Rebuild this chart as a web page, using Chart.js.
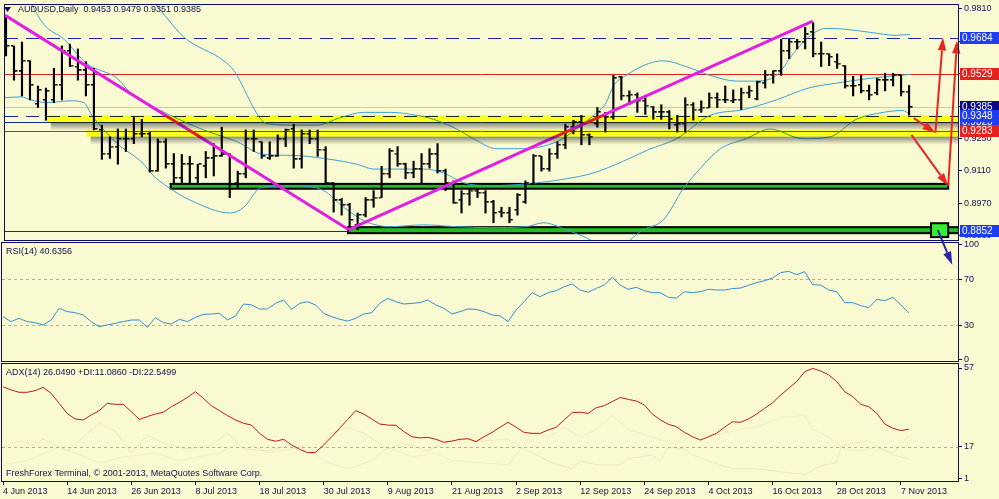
<!DOCTYPE html>
<html>
<head>
<meta charset="utf-8">
<script src="https://cdn.jsdelivr.net/npm/chart.js@4.4.0/dist/chart.umd.min.js"></script>
<style>
  html, body { margin: 0; padding: 0; background: #FAFAD2; overflow: hidden; }
  #wrap { position: relative; width: 999px; height: 499px; }
  #wrap canvas { position: absolute; left: 0; top: 0; }
</style>
</head>
<body>
<div id="wrap">
  <canvas id="adxChart" width="999" height="499"></canvas>
  <canvas id="rsiChart" width="999" height="499"></canvas>
  <canvas id="priceChart" width="999" height="499"></canvas>
</div>
<script>
// daily bars, 4 Jun 2013 .. 8 Nov 2013 (index = bar number)
const openP = [0.9764,0.9650,0.9540,0.9586,0.9400,0.9417,0.9417,0.9481,0.9629,0.9561,
  0.9544,0.9481,0.9287,0.9185,0.9215,0.9249,0.9249,0.9270,0.9270,0.9109,
  0.9236,0.9139,0.9080,0.9139,0.9080,0.9130,0.9164,0.9173,0.9181,0.9059,
  0.9097,0.9249,0.9236,0.9164,0.9173,0.9249,0.9291,0.9160,0.9270,0.9249,
  0.9202,0.9059,0.8983,0.8962,0.8877,0.8919,0.8983,0.8995,0.9097,0.9185,
  0.9139,0.9101,0.9118,0.9139,0.9181,0.9109,0.9059,0.8983,0.9012,0.9025,
  0.9016,0.8974,0.8932,0.8928,0.8941,0.8974,0.9054,0.9173,0.9118,0.9181,
  0.9223,0.9299,0.9320,0.9266,0.9312,0.9350,0.9341,0.9515,0.9434,0.9439,
  0.9413,0.9388,0.9363,0.9363,0.9308,0.9312,0.9396,0.9375,0.9384,0.9426,
  0.9417,0.9413,0.9417,0.9447,0.9422,0.9489,0.9523,0.9540,0.9629,0.9667,
  0.9667,0.9709,0.9616,0.9616,0.9582,0.9565,0.9477,0.9481,0.9456,0.9447,
  0.9502,0.9502,0.9523,0.9453];
const highP = [0.9772,0.9650,0.9667,0.9586,0.9477,0.9468,0.9553,0.9650,0.9658,0.9637,
  0.9582,0.9553,0.9308,0.9257,0.9291,0.9291,0.9341,0.9333,0.9278,0.9249,
  0.9249,0.9185,0.9181,0.9173,0.9139,0.9194,0.9228,0.9299,0.9185,0.9109,
  0.9287,0.9287,0.9236,0.9236,0.9266,0.9291,0.9312,0.9287,0.9287,0.9287,
  0.9215,0.9059,0.8991,0.8970,0.8928,0.8995,0.9025,0.9130,0.9206,0.9215,
  0.9143,0.9152,0.9185,0.9206,0.9228,0.9118,0.9067,0.9025,0.9033,0.9033,
  0.9025,0.8983,0.8953,0.8953,0.9012,0.9067,0.9181,0.9173,0.9206,0.9236,
  0.9312,0.9329,0.9350,0.9270,0.9384,0.9363,0.9523,0.9519,0.9456,0.9447,
  0.9426,0.9388,0.9396,0.9371,0.9350,0.9426,0.9405,0.9413,0.9447,0.9447,
  0.9477,0.9460,0.9468,0.9477,0.9498,0.9544,0.9544,0.9679,0.9679,0.9679,
  0.9730,0.9751,0.9667,0.9616,0.9616,0.9565,0.9519,0.9523,0.9481,0.9510,
  0.9532,0.9532,0.9523,0.9479];
const lowP = [0.9607,0.9502,0.9434,0.9417,0.9384,0.9329,0.9405,0.9417,0.9561,0.9502,
  0.9434,0.9287,0.9160,0.9164,0.9139,0.9194,0.9228,0.9257,0.9105,0.9109,
  0.9122,0.9059,0.9059,0.9059,0.9059,0.9080,0.9088,0.9173,0.8995,0.9033,
  0.9080,0.9194,0.9164,0.9160,0.9173,0.9215,0.9122,0.9122,0.9228,0.9173,
  0.9059,0.8932,0.8919,0.8856,0.8856,0.8911,0.8953,0.8995,0.9080,0.9130,
  0.9076,0.9080,0.9059,0.9122,0.9101,0.9025,0.8970,0.8928,0.8962,0.8995,
  0.8928,0.8886,0.8911,0.8886,0.8919,0.8970,0.9054,0.9109,0.9109,0.9164,
  0.9206,0.9270,0.9223,0.9223,0.9299,0.9278,0.9333,0.9417,0.9396,0.9363,
  0.9354,0.9333,0.9333,0.9291,0.9278,0.9278,0.9329,0.9363,0.9384,0.9384,
  0.9405,0.9405,0.9375,0.9426,0.9417,0.9468,0.9489,0.9523,0.9595,0.9637,
  0.9637,0.9603,0.9561,0.9565,0.9553,0.9468,0.9434,0.9447,0.9417,0.9439,
  0.9456,0.9477,0.9434,0.9351];
const closeP = [0.9650,0.9540,0.9586,0.9481,0.9460,0.9456,0.9481,0.9629,0.9565,0.9544,
  0.9481,0.9291,0.9185,0.9215,0.9249,0.9249,0.9270,0.9270,0.9109,0.9236,
  0.9139,0.9080,0.9139,0.9139,0.9139,0.9164,0.9173,0.9181,0.9033,0.9097,
  0.9249,0.9249,0.9173,0.9173,0.9249,0.9287,0.9160,0.9270,0.9249,0.9202,
  0.9059,0.8983,0.8962,0.8898,0.8919,0.8983,0.8995,0.9097,0.9194,0.9139,
  0.9101,0.9118,0.9139,0.9181,0.9109,0.9059,0.8970,0.9012,0.9025,0.9016,
  0.8974,0.8928,0.8928,0.8898,0.9004,0.9059,0.9173,0.9118,0.9185,0.9223,
  0.9299,0.9320,0.9266,0.9257,0.9363,0.9341,0.9510,0.9434,0.9439,0.9413,
  0.9392,0.9363,0.9363,0.9333,0.9312,0.9396,0.9375,0.9384,0.9426,0.9417,
  0.9417,0.9417,0.9447,0.9456,0.9493,0.9523,0.9540,0.9629,0.9667,0.9667,
  0.9700,0.9616,0.9616,0.9603,0.9574,0.9477,0.9477,0.9456,0.9439,0.9502,
  0.9502,0.9523,0.9451,0.9385];

// Bollinger bands, [bar, price]
const upperBand = [[18.5,0.9840],[20.1,0.9772],[22.25,0.9688],[27.25,0.9586],[28.5,0.9544],[31.9,0.9333],
  [33.1,0.9312],[36,0.9308],[38.9,0.9308],[41.9,0.9341],[44.75,0.9363],[48.1,0.9363],[51.4,0.9350],
  [53.5,0.9333],[56.4,0.9291],[58.5,0.9249],[61.4,0.9206],[64.75,0.9206],[68.9,0.9236],[71.4,0.9291],
  [73.5,0.9350],[75.1,0.9405],[76,0.9477],[77.6,0.9523],[80.4,0.9574],[82.25,0.9586],[85.1,0.9561],
  [88.1,0.9523],[91.4,0.9498],[93.5,0.9498],[96.4,0.9523],[98.5,0.9616],[100.4,0.9688],[102.6,0.9726],
  [105.1,0.9722],[108.1,0.9709],[111.4,0.9696],[113.1,0.9700]];
const middleBand = [[3.25,0.9827],[4.75,0.9742],[7.25,0.9679],[10.1,0.9574],[13.9,0.9510],[15.6,0.9447],
  [20.6,0.9350],[24.75,0.9287],[28.9,0.9236],[32.25,0.9181],[36,0.9177],[39.75,0.9164],[43.9,0.9139],
  [46,0.9118],[52.25,0.9118],[54.75,0.9101],[57.25,0.9059],[60.4,0.9046],[65.1,0.9054],[70.1,0.9076],
  [73.5,0.9101],[77.25,0.9152],[80.4,0.9202],[83.9,0.9249],[88.1,0.9350],[92.25,0.9375],[96.4,0.9417],
  [100.4,0.9468],[103.9,0.9489],[108.1,0.9510],[113.1,0.9527]];
const lowerBand = [[-0.25,0.9426],[1.9,0.9430],[3.1,0.9417],[5.1,0.9405],[8.1,0.9413],[9.75,0.9405],
  [10.75,0.9350],[12.25,0.9287],[14.1,0.9223],[17.25,0.9139],[18.1,0.9101],[20.4,0.9037],[23.1,0.8983],
  [28.1,0.8928],[29.75,0.8953],[31.9,0.9037],[36,0.9046],[39.75,0.9025],[42.25,0.8953],[45.1,0.8890],
  [48.1,0.8869],[52.25,0.8877],[56.4,0.8869],[60.4,0.8865],[65.1,0.8869],[67.25,0.8886],[70.1,0.8856],
  [72.25,0.8827],[76,0.8772],[79.75,0.8856],[82.25,0.8898],[84.75,0.9033],[86.9,0.9122],[89.4,0.9206],
  [92.6,0.9249],[95.6,0.9291],[99.75,0.9249],[103.1,0.9257],[106.4,0.9333],[109.75,0.9363],
  [112.25,0.9371],[113.1,0.9354]];

const rsi = [37.5,33.2,36.1,33.2,32.3,30.3,34.6,44.8,41.9,41.0,
  39.0,33.2,28.8,30.3,31.7,33.2,34.6,34.6,28.2,36.6,
  32.3,31.1,35.2,33.2,36.9,39.5,39.8,40.4,34.6,38.1,
  48.5,47.7,44.2,44.2,49.1,52.0,43.9,49.1,50.5,47.7,
  40.4,37.5,35.2,33.7,36.1,39.8,41.0,49.1,53.5,50.5,
  48.5,49.1,49.7,52.0,47.7,44.8,39.8,41.9,44.2,43.9,
  41.9,39.0,38.1,33.2,43.3,50.5,58.4,54.9,58.4,60.1,
  63.6,65.9,60.7,58.7,62.1,65.0,71.7,65.0,61.3,63.0,
  60.1,58.4,58.4,54.3,53.7,59.2,58.4,59.2,61.3,60.7,
  60.7,61.9,62.4,64.8,67.1,68.8,71.1,75.8,76.9,74.0,
  76.6,65.3,65.0,60.7,59.2,49.7,49.7,47.1,45.3,52.6,
  51.4,54.3,47.7,40.6356];
const adx = [47.5,45.9,44.7,44.7,45.5,47.2,44.2,39.1,34.0,31.2,
  30.7,33.2,35.4,39.1,38.6,38.6,34.9,31.0,32.4,33.7,
  34.6,37.4,39.6,42.1,45.0,41.6,37.9,35.4,32.9,30.7,
  29.0,28.1,23.9,20.9,19.9,20.9,18.0,15.8,14.1,14.3,
  18.0,22.2,26.5,31.0,35.4,33.7,31.2,28.6,28.1,28.0,
  24.8,22.2,21.6,21.9,20.9,19.4,20.0,20.9,21.2,19.7,
  22.2,24.4,27.0,29.5,27.0,24.4,23.9,23.9,25.6,27.0,
  30.7,34.4,34.6,34.0,36.9,37.9,40.0,42.1,41.1,40.3,
  38.3,33.7,30.7,28.5,27.3,24.4,22.2,20.5,22.2,23.9,
  27.0,29.8,29.5,31.2,33.7,36.6,39.4,43.3,46.7,50.1,
  55.1,56.8,55.5,53.5,50.1,45.0,42.5,38.6,37.4,34.0,
  28.6,26.5,25.3,26.049];
const diPlus = [[0,8],[3,10],[7,17],[9,14],[12,9],[15,12],[19,14],[22,10],[27,14],[30,20],[33,14],[36,16],
  [38,18],[40,10],[43,6],[46,10],[48,17],[51,12],[54,14],[56,10],[60,9],[63,8],[65,18],[66,24],[68,22],
  [70,27],[72,22],[74,26],[76,33],[78,26],[81,22],[84,18],[85,24],[88,23],[90,24],[92,26],[94,27],[97,32],
  [100,33],[101,26],[103,22],[105,16],[107,15],[109,17],[111,13],[113,11.086]];
const diMinus = [[0,17],[2,20],[4,18],[5,21],[8,15],[12,29],[14,25],[16,14],[18,23],[20,19],[23,16],[26,18],
  [28,24],[30,16],[33,15],[36,18],[39,14],[41,24],[43,27],[45,24],[48,16],[50,19],[53,15],[55,19],[57,21],
  [60,20],[63,21],[65,16],[67,12],[68.5,9],[71,6],[72,10],[74,8],[77,8],[78,11],[81,13],[82,10],[83,17],
  [85,16],[86,13],[88,10],[91,6],[94,6],[97,4.5],[100,3],[102,7.5],[104,9],[104.5,17],[106,19],[108,20],
  [109,17],[111,14],[113,22.5499]];

const xLabels = ["4 Jun 2013", "14 Jun 2013", "26 Jun 2013", "8 Jul 2013", "18 Jul 2013", "30 Jul 2013",
  "9 Aug 2013", "21 Aug 2013", "2 Sep 2013", "12 Sep 2013", "24 Sep 2013", "4 Oct 2013", "16 Oct 2013",
  "28 Oct 2013", "7 Nov 2013"];
const priceTicks = [0.9810, 0.9670, 0.9530, 0.9390, 0.9250, 0.9110, 0.8970, 0.8830];
const rsiTicks = [0, 30, 70, 100];
const rsiLevels = [30, 70];
const adxTicks = [1, 17, 57];
const adxLevels = [17];

// drawn objects, in bar / price units
const bidPrice = 0.9385;
const dashedLevels = [0.9684, 0.9348];
const solidLevels = [0.9323, 0.8852];
const redLevels = [0.9529, 0.9283];
const zones = [[5.1, 0.9350, 0.9318], [10.1, 0.9286, 0.9258]];            // from bar, top, bottom
const greenBoxes = [[20.6, 117.9, 0.9054, 0.9033], [42.8, 119.3, 0.8867, 0.8841], [115.75, 117.9, 0.8884, 0.8824]];
const trendLines = [[[0, 0.9780], [42.8, 0.8858]], [[43, 0.8858], [100.8, 0.9755]]];
const redArrows = [[[113.6, 0.9338], [116.3, 0.9275], [117.25, 0.9687]],
                   [[113.3, 0.9266], [117.9, 0.9045], [119.0, 0.9674]]];
const blueArrow = [[116.6, 0.8854], [118.4, 0.8705]];

const NAVY = "#0C0C64";
const X_MIN = -0.125, X_MAX = 119.125;
const last = closeP.length - 1;

Chart.defaults.font.family = "'Liberation Sans', Arial, sans-serif";
Chart.defaults.font.size = 9;
Chart.defaults.color = "#10104A";
Chart.defaults.animation = false;
Chart.defaults.events = [];
Chart.defaults.plugins.legend.display = false;
Chart.defaults.plugins.tooltip.enabled = false;

const xAxis = (show) => ({
  type: "linear", min: X_MIN, max: X_MAX, offset: false, display: show,
  grid: { drawOnChartArea: false, tickLength: 4, tickColor: NAVY },
  border: { display: false },
  ticks: { autoSkip: false, maxRotation: 0, align: "start", padding: 1, callback: (v) => xLabels[Math.round(v / 8)] },
  afterBuildTicks: (s) => { s.ticks = xLabels.map((_, k) => ({ value: k * 8 })); },
  afterFit: (s) => { s.height = show ? 18 : 0; s.paddingLeft = 0; s.paddingRight = 0; }
});
const yAxis = (min, max, ticks, fmt) => ({
  position: "right", min: min, max: max,
  grid: { drawOnChartArea: false, tickLength: 4, tickColor: NAVY },
  border: { display: false },
  ticks: { padding: 2, callback: fmt },
  afterBuildTicks: (s) => { s.ticks = ticks.map((v) => ({ value: v })); },
  afterFit: (s) => { s.width = 41; s.paddingTop = 0; s.paddingBottom = 0; }
});
const pts = (list) => list.map((p) => ({ x: p[0], y: p[1] }));

function frame(chart) {
  const { ctx, chartArea: a } = chart;
  ctx.save();
  ctx.strokeStyle = NAVY; ctx.lineWidth = 1;
  ctx.strokeRect(a.left - 0.5, a.top - 0.5, a.right - a.left + 1, a.bottom - a.top + 1);
  ctx.restore();
}
function caption(ctx, text, x, y) {
  ctx.save();
  ctx.font = "9px 'Liberation Sans', Arial";
  ctx.fillStyle = "#10104A"; ctx.textBaseline = "middle"; ctx.textAlign = "left";
  ctx.fillText(text, x, y);
  ctx.restore();
}
function arrow(ctx, p1, p2, color, width, head) {
  const [x1, y1] = p1, [x2, y2] = p2;
  const ang = Math.atan2(y2 - y1, x2 - x1);
  const bx = x2 - head * Math.cos(ang), by = y2 - head * Math.sin(ang);
  const w = head * 0.32;
  ctx.strokeStyle = color; ctx.fillStyle = color; ctx.lineWidth = width;
  ctx.beginPath(); ctx.moveTo(x1, y1); ctx.lineTo(bx, by); ctx.stroke();
  ctx.beginPath(); ctx.moveTo(x2, y2);
  ctx.lineTo(bx + w * Math.sin(ang), by - w * Math.cos(ang));
  ctx.lineTo(bx - w * Math.sin(ang), by + w * Math.cos(ang));
  ctx.closePath(); ctx.fill();
}
function tickImage(side) {
  const c = document.createElement("canvas");
  c.width = 8; c.height = 2;
  const g = c.getContext("2d");
  g.fillStyle = "#000";
  g.fillRect(side < 0 ? 1 : 5, 0, 2.5, 1.5);
  return c;
}

const priceDecor = {
  id: "priceDecor",
  beforeDatasetsDraw(chart) {
    const { ctx, chartArea: a, scales: { x, y } } = chart;
    ctx.save();
    ctx.beginPath(); ctx.rect(a.left, a.top, a.right - a.left, a.bottom - a.top); ctx.clip();
    const level = (p, color, dash) => {
      const py = Math.round(y.getPixelForValue(p)) + 0.5;
      ctx.strokeStyle = color; ctx.lineWidth = 1; ctx.setLineDash(dash);
      ctx.beginPath(); ctx.moveTo(a.left, py); ctx.lineTo(a.right, py); ctx.stroke();
    };
    level(bidPrice, "#C9C9BE", []);
    solidLevels.forEach((p) => level(p, "#1A28A0", []));
    dashedLevels.forEach((p) => level(p, "#1A28A0", [13, 8]));
    redLevels.forEach((p) => level(p, "#E0201C", []));
    ctx.setLineDash([]);
    greenBoxes.forEach((b, k) => {
      const x1 = x.getPixelForValue(b[0]), x2 = x.getPixelForValue(b[1]);
      const y1 = y.getPixelForValue(b[2]), y2 = y.getPixelForValue(b[3]);
      ctx.fillStyle = k === 2 ? "#33EE33" : "#22BB22";
      ctx.fillRect(x1, y1, x2 - x1, y2 - y1);
      ctx.strokeStyle = "#000"; ctx.lineWidth = 2;
      ctx.strokeRect(x1, y1, x2 - x1, y2 - y1);
    });
    ctx.restore();
  },
  afterDatasetsDraw(chart) {
    const { ctx, chartArea: a, scales: { x, y } } = chart;
    const px = (p) => [x.getPixelForValue(p[0]), y.getPixelForValue(p[1])];
    ctx.save();
    ctx.beginPath(); ctx.rect(a.left, a.top, a.right - a.left, a.bottom - a.top); ctx.clip();
    ctx.strokeStyle = "#E020E0"; ctx.lineWidth = 3; ctx.lineCap = "round";
    trendLines.forEach((l) => {
      const [x1, y1] = px(l[0]), [x2, y2] = px(l[1]);
      ctx.beginPath(); ctx.moveTo(x1, y1); ctx.lineTo(x2, y2); ctx.stroke();
    });
    // highlighted zones: yellow multiplied over everything under it
    ctx.globalCompositeOperation = "multiply";
    zones.forEach((z) => {
      const x1 = x.getPixelForValue(z[0]);
      const y1 = y.getPixelForValue(z[1]), y2 = y.getPixelForValue(z[2]);
      const g = ctx.createLinearGradient(0, y2, 0, y2 + 8);
      g.addColorStop(0, "rgba(110,110,100,0.8)");
      g.addColorStop(1, "rgba(110,110,100,0)");
      ctx.fillStyle = g; ctx.fillRect(x1 + 4, y2, a.right - x1 - 4, 8);
      ctx.fillStyle = "#FFFF1E"; ctx.fillRect(x1, y1, a.right - x1, y2 - y1);
    });
    ctx.restore();
    ctx.save();
    redArrows.forEach((path) => {
      for (let k = 1; k < path.length; k++) arrow(ctx, px(path[k - 1]), px(path[k]), "#E6281E", 2, 13);
    });
    arrow(ctx, px(blueArrow[0]), px(blueArrow[1]), "#2626AA", 2, 13);
    ctx.restore();
  },
  afterDraw(chart) {
    const { ctx, chartArea: a, scales: { y } } = chart;
    frame(chart);
    const tag = (p, bg) => {
      const py = Math.round(y.getPixelForValue(p));
      ctx.fillStyle = bg; ctx.fillRect(a.right + 2, py - 6, chart.width - a.right - 2, 12);
      ctx.fillStyle = "#fff"; ctx.font = "10px 'Liberation Sans', Arial";
      ctx.textBaseline = "middle"; ctx.textAlign = "left";
      ctx.fillText(p.toFixed(4), a.right + 4, py + 0.5);
    };
    ctx.save();
    tag(bidPrice, "#0A0A80");
    solidLevels.forEach((p) => tag(p, "#1E3CF0"));
    dashedLevels.forEach((p) => tag(p, "#1E3CF0"));
    redLevels.forEach((p) => tag(p, "#E8201E"));
    // title
    ctx.fillStyle = NAVY;
    ctx.beginPath(); ctx.moveTo(4, 7); ctx.lineTo(11, 7); ctx.lineTo(7.5, 12); ctx.closePath(); ctx.fill();
    ctx.restore();
    caption(ctx, "AUDUSD,Daily  " + [openP, highP, lowP, closeP].map((s) => s[last].toFixed(4)).join(" "), 18, 10);
  }
};

const indicatorDecor = (levels, label) => ({
  id: "indicatorDecor",
  beforeDatasetsDraw(chart) {
    const { ctx, chartArea: a, scales: { y } } = chart;
    ctx.save();
    ctx.strokeStyle = "#B0AE94"; ctx.lineWidth = 1; ctx.setLineDash([3, 3]);
    levels.forEach((v) => {
      const py = Math.round(y.getPixelForValue(v)) + 0.5;
      ctx.beginPath(); ctx.moveTo(a.left, py); ctx.lineTo(a.right, py); ctx.stroke();
    });
    ctx.restore();
  },
  afterDraw(chart) {
    const a = chart.chartArea;
    frame(chart);
    caption(chart.ctx, label, a.left + 4, a.top + 9);
    if (chart.canvas.id === "adxChart") {
      caption(chart.ctx, "FreshForex Terminal, \u00A9 2001-2013, MetaQuotes Software Corp.", a.left + 4, a.bottom - 7);
    }
  }
});

new Chart(document.getElementById("adxChart"), {
  type: "line",
  data: {
    datasets: [
      { data: adx.map((v, i) => ({ x: i, y: v })), borderColor: "#C01818", borderWidth: 1, pointRadius: 0 },
      { data: pts(diMinus), borderColor: "rgba(215,185,130,0.28)", borderWidth: 1, pointRadius: 0 },
      { data: pts(diPlus), borderColor: "rgba(215,195,150,0.22)", borderWidth: 1, pointRadius: 0 }
    ]
  },
  options: {
    responsive: false,
    layout: { padding: { left: 2, top: 364, right: 0, bottom: 0 } },
    scales: { x: xAxis(true), y: yAxis(-0.22, 59.03, adxTicks, (v) => String(v)) }
  },
  plugins: [indicatorDecor(adxLevels, "ADX(14) " + adx[last].toFixed(4) + " +DI:" +
    diPlus[diPlus.length - 1][1].toFixed(4) + " -DI:" + diMinus[diMinus.length - 1][1].toFixed(4))]
});

new Chart(document.getElementById("rsiChart"), {
  type: "line",
  data: {
    datasets: [{ data: rsi.map((v, i) => ({ x: i, y: v })), borderColor: "#2E8FD6", borderWidth: 1, pointRadius: 0 }]
  },
  options: {
    responsive: false,
    layout: { padding: { left: 2, top: 243, right: 0, bottom: 138 } },
    scales: { x: xAxis(false), y: yAxis(-1.04, 101.57, rsiTicks, (v) => String(v)) }
  },
  plugins: [indicatorDecor(rsiLevels, "RSI(14) " + rsi[last].toFixed(4))]
});

const bandStyle = { type: "line", borderColor: "#3AA0D8", borderWidth: 1, pointRadius: 0, cubicInterpolationMode: "monotone" };

new Chart(document.getElementById("priceChart"), {
  type: "bar",
  data: {
    datasets: [
      { type: "bar", data: highP.map((h, i) => ({ x: i, y: [lowP[i], h] })), backgroundColor: "#000",
        barThickness: 1.5, grouped: false, borderWidth: 0 },
      { type: "line", data: openP.map((v, i) => ({ x: i, y: v })), showLine: false,
        pointStyle: tickImage(-1), pointRadius: 2 },
      { type: "line", data: closeP.map((v, i) => ({ x: i, y: v })), showLine: false,
        pointStyle: tickImage(1), pointRadius: 2 },
      Object.assign({ data: pts(upperBand) }, bandStyle),
      Object.assign({ data: pts(middleBand) }, bandStyle),
      Object.assign({ data: pts(lowerBand) }, bandStyle)
    ]
  },
  options: {
    responsive: false,
    layout: { padding: { left: 2, top: 1, right: 0, bottom: 259 } },
    scales: { x: xAxis(false), y: yAxis(0.88115, 0.98270, priceTicks, (v) => v.toFixed(4)) }
  },
  plugins: [priceDecor]
});
</script>
</body>
</html>
